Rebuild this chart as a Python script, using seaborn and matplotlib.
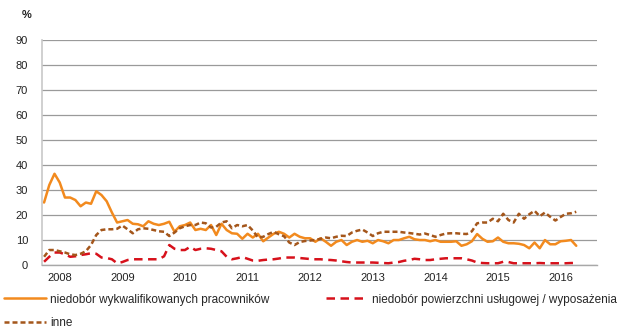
import numpy as np
import pandas as pd
import matplotlib
matplotlib.use("Agg")
import matplotlib.pyplot as plt
import seaborn as sns

# Monthly survey shares (%), from Oct 2007 to Apr 2016
skilled_shortage = [
    25, 32, 36.5, 33, 27, 27, 26, 23.5, 25, 24.5,
    29.5, 28, 25.5, 21, 17, 17.5, 18, 16.5, 16.3, 15.5,
    17.5, 16.5, 16, 16.5, 17.3, 13.3, 15.5, 16, 17, 14,
    14.5, 14, 16, 12, 16.5, 14, 12.7, 12.5, 10.5, 12.5,
    11, 12.5, 9.5, 11, 12.5, 13.3, 12.5, 11, 12.5, 11.3,
    10.7, 10.7, 9.3, 10.7, 9.3, 7.7, 9.3, 10, 8, 9.3,
    10, 9.3, 9.7, 8.7, 10, 9.5, 8.7, 10, 10, 10.7,
    11.3, 10.3, 10, 10, 9.5, 10, 9.3, 9.3, 9.3, 9.5,
    7.7, 8.3, 9.5, 12.4, 10.5, 9.3, 9.5, 11, 9.3, 8.7,
    8.7, 8.5, 8, 6.7, 9, 6.7, 10, 8.3, 8.3, 9.5,
    9.7, 10, 7.7,
]
space_shortage = [
    1.3, 3.3, 5, 5, 4.3, 3.3, 3.5, 4, 4.3, 4.7,
    4.5, 3, 2.8, 2.3, 0.7, 1.2, 2, 2.3, 2.3, 2.3,
    2.3, 2.3, 2.3, 3.5, 8, 6.5, 6, 6, 7.3, 6,
    6.5, 6.7, 6.5, 6, 5.5, 3.3, 2.3, 2.7, 3.2, 2.5,
    1.8, 1.7, 2, 2.2, 2.3, 2.6, 3, 3, 3, 2.8,
    2.6, 2.4, 2.3, 2.3, 2.1, 2, 1.8, 1.5, 1.2, 1,
    1, 1, 1, 1, 0.9, 0.8, 0.7, 1, 1.2, 1.7,
    2, 2.5, 2.3, 2, 2, 2.3, 2.5, 2.7, 2.7, 2.7,
    2.7, 2.3, 1.8, 1, 0.8, 0.7, 0.7, 0.7, 1.3, 1.2,
    0.7, 0.7, 0.7, 0.7, 0.7, 0.8, 0.7, 0.7, 0.7, 0.7,
    0.7, 0.8, 0.8,
]
other = [
    3.3, 6, 6, 5.5, 5, 4.3, 4, 4.5, 5.5, 8,
    12, 14, 14.3, 14.3, 14.5, 15.8, 14.3, 12.7, 14.3, 14.7,
    14.5, 14, 13.5, 13.3, 11.6, 13, 14.7, 15.5, 16, 16,
    17, 16.7, 15, 15.3, 17, 17.5, 14.7, 16, 15.5, 16,
    13.8, 11, 11.3, 12.4, 13.3, 12.3, 11.5, 9, 8, 9.2,
    9.6, 9.8, 10, 10.5, 11, 10.7, 11.3, 11.7, 11.6, 13,
    13.7, 14.2, 13, 11.6, 12.7, 13.3, 13.3, 13.3, 13.3, 13,
    12.8, 12.5, 12.2, 12.6, 12, 11.3, 12, 12.6, 12.7, 12.7,
    12.5, 12.4, 13.5, 16.7, 17, 17, 18.5, 17.5, 20.5, 18,
    17, 20.5, 18.5, 20.3, 21.7, 19.5, 21, 19.3, 17.8, 19.2,
    20.5, 20.7, 21.3,
]
years = ["2008", "2009", "2010", "2011", "2012", "2013", "2014", "2015", "2016"]
first_january = 3  # Oct 2007 is month 0

labels = [
    "niedobór wykwalifikowanych pracowników",
    "niedobór powierzchni usługowej / wyposażenia",
    "inne",
]

df = pd.DataFrame({
    "month": np.arange(len(skilled_shortage)),
    labels[0]: skilled_shortage,
    labels[1]: space_shortage,
    labels[2]: other,
})

sns.set_theme(style="white")
plt.rcParams["font.family"] = ["Liberation Sans", "DejaVu Sans"]

fig = plt.figure(figsize=(6.22, 3.28), dpi=100)
ax = fig.add_axes([0.0675, 0.192, 0.8925, 0.686])

c_orange = "#F28A1E"
c_red = "#D7111B"
c_brown = "#A4561B"

sns.lineplot(data=df, x="month", y=labels[0], ax=ax, color=c_orange,
             linewidth=1.8, legend=False)
sns.lineplot(data=df, x="month", y=labels[1], ax=ax, color=c_red,
             linewidth=1.8, legend=False)
sns.lineplot(data=df, x="month", y=labels[2], ax=ax, color=c_brown,
             linewidth=1.8, legend=False)
lines = ax.get_lines()
lines[1].set_dashes((3.4, 2.2))
lines[2].set_dashes((2.0, 1.2))

ax.set_xlim(-0.4, 106)
ax.set_ylim(0, 90)
ax.set_yticks(range(0, 91, 10))
ax.set_xticks([first_january + 12 * k for k in range(len(years))])
ax.set_xticklabels(years)
ax.set_xlabel("")
ax.set_ylabel("")
ax.tick_params(axis="both", labelsize=8, colors="#222222", length=0)
ax.tick_params(axis="x", pad=6)
ax.tick_params(axis="y", pad=10)

ax.yaxis.grid(True, color="#9a9a9a", linewidth=0.9)
ax.xaxis.grid(False)
for side in ("top", "right"):
    ax.spines[side].set_visible(False)
ax.spines["left"].set_color("#c8c8c8")
ax.spines["left"].set_linewidth(1.2)
ax.spines["bottom"].set_color("#a8a8a8")
ax.spines["bottom"].set_linewidth(1.0)

fig.text(22 / 622, 1 - 15 / 328, "%", fontsize=8, fontweight="bold",
         color="#222222", ha="left", va="center")

handles = [lines[0], lines[2], lines[1]]
leg_labels = [labels[0], labels[2], labels[1]]
fig.legend(handles, leg_labels, loc="upper left",
           bbox_to_anchor=(0.0, 1 - 290 / 328), ncol=2, frameon=False,
           fontsize=8.5, handlelength=3.6, handletextpad=0.35,
           columnspacing=4.75, labelspacing=1.0, borderaxespad=0,
           borderpad=0.3)

fig.savefig("out.png", dpi=100)
